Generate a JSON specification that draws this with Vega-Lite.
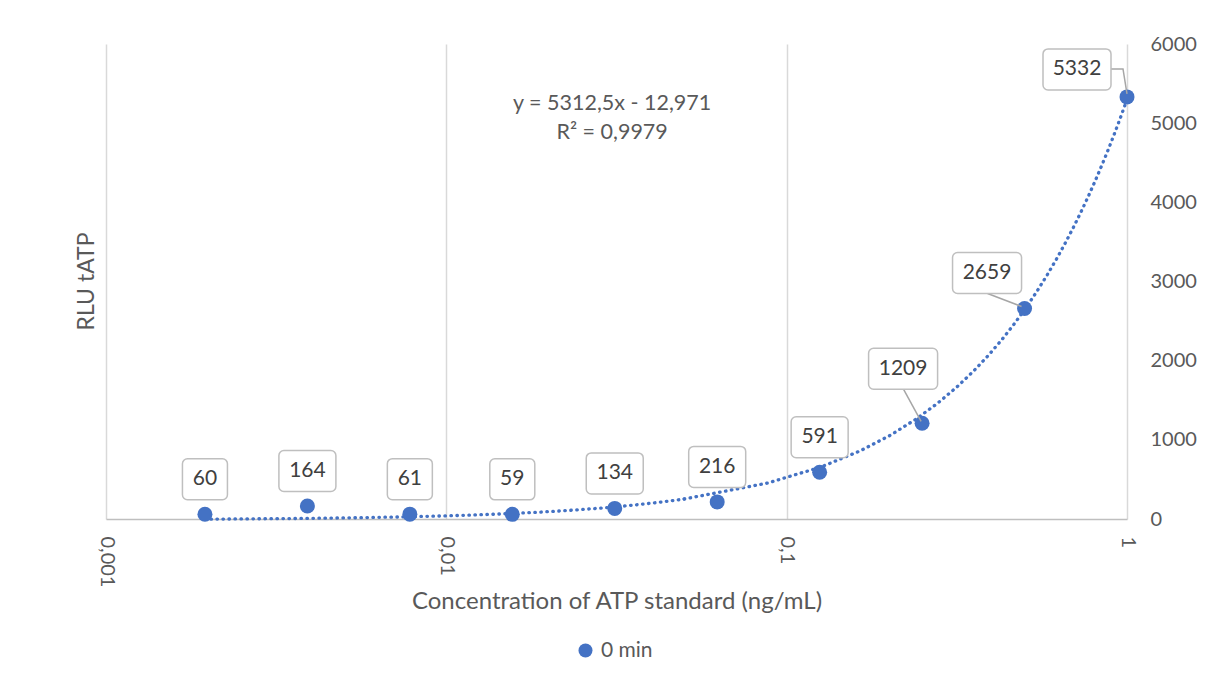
{
  "$schema": "https://vega.github.io/schema/vega-lite/v6.json",
  "width": 1021,
  "height": 475,
  "autosize": {"type": "none"},
  "padding": {"left": 106, "top": 44, "right": 89, "bottom": 162},
  "background": "#ffffff",
  "config": {
    "view": {"stroke": null},
    "font": "Lato",
    "text": {"font": "Lato"}
  },
  "title": {
    "text": "RLU tATP",
    "orient": "left",
    "anchor": "middle",
    "frame": "group",
    "offset": -3,
    "fontSize": 23,
    "fontWeight": "normal",
    "color": "#595959",
    "font": "Lato"
  },
  "data": {
    "values": [
      {"conc": 0.001953125, "rlu": 60, "series": "0 min"},
      {"conc": 0.00390625, "rlu": 164, "series": "0 min"},
      {"conc": 0.0078125, "rlu": 61, "series": "0 min"},
      {"conc": 0.015625, "rlu": 59, "series": "0 min"},
      {"conc": 0.03125, "rlu": 134, "series": "0 min"},
      {"conc": 0.0625, "rlu": 216, "series": "0 min"},
      {"conc": 0.125, "rlu": 591, "series": "0 min"},
      {"conc": 0.25, "rlu": 1209, "series": "0 min"},
      {"conc": 0.5, "rlu": 2659, "series": "0 min"},
      {"conc": 1, "rlu": 5332, "series": "0 min"}
    ]
  },
  "encoding": {
    "x": {
      "field": "conc",
      "type": "quantitative",
      "scale": {"type": "log", "domain": [0.001, 1], "nice": false},
      "axis": {
        "values": [0.001, 0.01, 0.1, 1],
        "labelExpr": "replace(format(datum.value, '~g'), '.', ',')",
        "labelAngle": 90,
        "labelAlign": "left",
        "labelBaseline": "middle",
        "labelPadding": 17,
        "labelFontSize": 20,
        "labelColor": "#595959",
        "labelFont": "Lato",
        "ticks": false,
        "grid": true,
        "gridColor": "#d9d9d9",
        "gridWidth": 1.5,
        "domainColor": "#bfbfbf",
        "domainWidth": 1.5,
        "title": "Concentration of ATP standard (ng/mL)",
        "titleFontSize": 24,
        "titleFontWeight": "normal",
        "titleColor": "#595959",
        "titleFont": "Lato",
        "titleBaseline": "alphabetic",
        "titleY": 89
      }
    },
    "y": {
      "field": "rlu",
      "type": "quantitative",
      "scale": {"domain": [0, 6000], "nice": false},
      "axis": {
        "orient": "right",
        "values": [0, 1000, 2000, 3000, 4000, 5000, 6000],
        "format": "d",
        "labelAlign": "left",
        "labelPadding": 23,
        "labelFontSize": 20,
        "labelColor": "#595959",
        "labelFont": "Lato",
        "ticks": false,
        "domain": false,
        "grid": false,
        "title": null
      }
    }
  },
  "layer": [
    {
      "transform": [{"regression": "rlu", "on": "conc", "method": "poly", "order": 1, "extent": [0.001953125, 0.05]}],
      "mark": {"type": "line", "color": "#4472C4", "strokeWidth": 3.3, "strokeDash": [0.5, 5.5], "strokeCap": "round"}
    },
    {
      "transform": [{"regression": "rlu", "on": "conc", "method": "poly", "order": 1, "extent": [0.05, 1]}],
      "mark": {"type": "line", "color": "#4472C4", "strokeWidth": 3.3, "strokeDash": [0.5, 5.5], "strokeCap": "round"}
    },
    {
      "mark": {"type": "circle", "size": 225, "opacity": 1},
      "encoding": {
        "color": {
          "field": "series",
          "type": "nominal",
          "scale": {"range": ["#4472C4"]},
          "legend": {
            "title": null,
            "orient": "none",
            "legendX": 469,
            "legendY": 596,
            "symbolType": "circle",
            "symbolSize": 196,
            "symbolOpacity": 1,
            "labelFontSize": 21,
            "labelColor": "#595959",
            "labelFont": "Lato",
            "labelOffset": 5
          }
        }
      }
    },
    {
      "transform": [{"filter": "datum.rlu >= 1000"}],
      "mark": {"type": "point", "size": 4, "filled": false, "fill": "transparent", "stroke": "#a6a6a6", "strokeWidth": 1.5, "opacity": 1},
      "encoding": {
        "shape": {
          "condition": [
            {"test": "datum.rlu == 1209", "value": "M -18.5 -34 L -1 -2"},
            {"test": "datum.rlu == 2659", "value": "M -37 -15 L -3 -2"}
          ],
          "value": "M -16 -28 H -4 L 0 -3"
        }
      }
    },
    {
      "mark": {"type": "point", "size": 4, "filled": true, "fill": "#ffffff", "stroke": "#bfbfbf", "strokeWidth": 1.5, "opacity": 1},
      "encoding": {
        "shape": {
          "condition": [
            {"test": "datum.rlu == 1209", "value": "M -48.5 -75 H 10.5 A 5 5 0 0 1 15.5 -70 V -39 A 5 5 0 0 1 10.5 -34 H -48.5 A 5 5 0 0 1 -53.5 -39 V -70 A 5 5 0 0 1 -48.5 -75 Z"},
            {"test": "datum.rlu == 2659", "value": "M -67 -56 H -8 A 5 5 0 0 1 -3 -51 V -20 A 5 5 0 0 1 -8 -15 H -67 A 5 5 0 0 1 -72 -20 V -51 A 5 5 0 0 1 -67 -56 Z"},
            {"test": "datum.rlu == 5332", "value": "M -79 -48 H -21 A 5 5 0 0 1 -16 -43 V -12 A 5 5 0 0 1 -21 -7 H -79 A 5 5 0 0 1 -84 -12 V -43 A 5 5 0 0 1 -79 -48 Z"},
            {"test": "datum.rlu >= 100", "value": "M -23.5 -55.5 H 23.5 A 5 5 0 0 1 28.5 -50.5 V -19.5 A 5 5 0 0 1 23.5 -14.5 H -23.5 A 5 5 0 0 1 -28.5 -19.5 V -50.5 A 5 5 0 0 1 -23.5 -55.5 Z"}
          ],
          "value": "M -17.5 -55.5 H 17.5 A 5 5 0 0 1 22.5 -50.5 V -19.5 A 5 5 0 0 1 17.5 -14.5 H -17.5 A 5 5 0 0 1 -22.5 -19.5 V -50.5 A 5 5 0 0 1 -17.5 -55.5 Z"
        }
      }
    },
    {
      "transform": [{"filter": "datum.rlu < 1000"}],
      "mark": {"type": "text", "dy": -35, "fontSize": 21, "color": "#404040", "align": "center", "baseline": "middle"},
      "encoding": {"text": {"field": "rlu", "type": "quantitative", "format": "d"}}
    },
    {
      "transform": [{"filter": "datum.rlu == 1209"}],
      "mark": {"type": "text", "dx": -19, "dy": -54.5, "fontSize": 21, "color": "#404040", "align": "center", "baseline": "middle"},
      "encoding": {"text": {"field": "rlu", "type": "quantitative", "format": "d"}}
    },
    {
      "transform": [{"filter": "datum.rlu == 2659"}],
      "mark": {"type": "text", "dx": -37.5, "dy": -35.5, "fontSize": 21, "color": "#404040", "align": "center", "baseline": "middle"},
      "encoding": {"text": {"field": "rlu", "type": "quantitative", "format": "d"}}
    },
    {
      "transform": [{"filter": "datum.rlu == 5332"}],
      "mark": {"type": "text", "dx": -50, "dy": -27.5, "fontSize": 21, "color": "#404040", "align": "center", "baseline": "middle"},
      "encoding": {"text": {"field": "rlu", "type": "quantitative", "format": "d"}}
    },
    {
      "transform": [{"filter": "datum.rlu == 5332"}],
      "mark": {"type": "text", "fontSize": 21.5, "color": "#595959", "align": "center", "baseline": "middle", "lineHeight": 29},
      "encoding": {
        "x": {"datum": 0.0307},
        "y": {"datum": 5240},
        "text": {"value": ["y = 5312,5x - 12,971", "R² = 0,9979"]}
      }
    }
  ]
}
